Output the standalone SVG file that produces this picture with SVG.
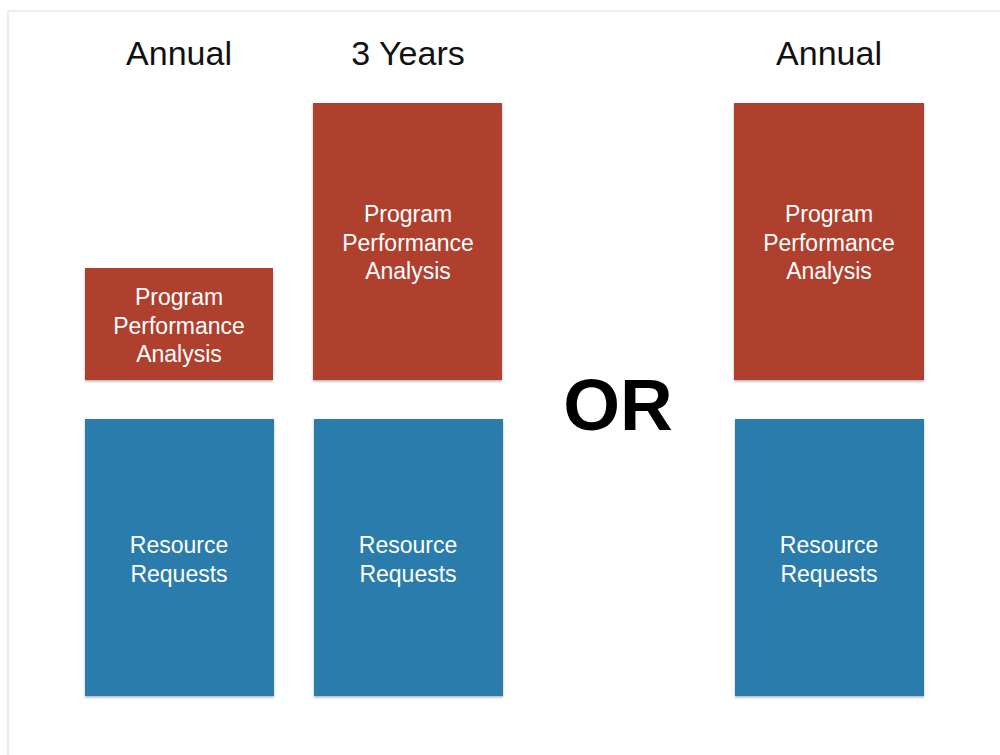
<svg xmlns="http://www.w3.org/2000/svg" width="1000" height="755" viewBox="0 0 1000 755">
<defs>
<filter id="sh" x="-5%" y="-5%" width="110%" height="110%">
<feDropShadow dx="0" dy="1.5" stdDeviation="1.2" flood-color="#000" flood-opacity="0.3"/>
</filter>
</defs>
<style>
.red{fill:#b03f2e;filter:url(#sh)}
.blue{fill:#2b7bad;filter:url(#sh)}
.hdr{font-family:"Liberation Sans",Arial,sans-serif;font-size:34px;fill:#111;text-anchor:middle}
.lbl{font-family:"Liberation Sans",Arial,sans-serif;font-size:23px;fill:#fff;text-anchor:middle}
.or{font-family:"Liberation Sans",Arial,sans-serif;font-size:73px;font-weight:bold;fill:#000;text-anchor:middle}
</style>
<rect width="1000" height="755" fill="#fff"/>
<path d="M8 755 V11 H1000" fill="none" stroke="#ececec" stroke-width="2"/>
<text class="hdr" x="179" y="65">Annual</text>
<text class="hdr" x="408" y="65">3 Years</text>
<text class="hdr" x="829" y="65">Annual</text>
<text class="or" x="618" y="430">OR</text>
<g id="ppa1">
<rect class="red" x="85" y="268" width="188" height="112"/>
<text class="lbl" x="179" y="305">Program</text>
<text class="lbl" x="179" y="333.5">Performance</text>
<text class="lbl" x="179" y="362">Analysis</text>
</g>
<g id="ppa2">
<rect class="red" x="313" y="103" width="189" height="277"/>
<text class="lbl" x="408" y="222">Program</text>
<text class="lbl" x="408" y="250.5">Performance</text>
<text class="lbl" x="408" y="279">Analysis</text>
</g>
<g id="ppa3">
<rect class="red" x="734" y="103" width="190" height="277"/>
<text class="lbl" x="829" y="222">Program</text>
<text class="lbl" x="829" y="250.5">Performance</text>
<text class="lbl" x="829" y="279">Analysis</text>
</g>
<g id="rr1">
<rect class="blue" x="85" y="419" width="189" height="277"/>
<text class="lbl" x="179" y="553">Resource</text>
<text class="lbl" x="179" y="582">Requests</text>
</g>
<g id="rr2">
<rect class="blue" x="314" y="419" width="189" height="277"/>
<text class="lbl" x="408" y="553">Resource</text>
<text class="lbl" x="408" y="582">Requests</text>
</g>
<g id="rr3">
<rect class="blue" x="735" y="419" width="189" height="277"/>
<text class="lbl" x="829" y="553">Resource</text>
<text class="lbl" x="829" y="582">Requests</text>
</g>
<g id="connectors"></g>
</svg>
